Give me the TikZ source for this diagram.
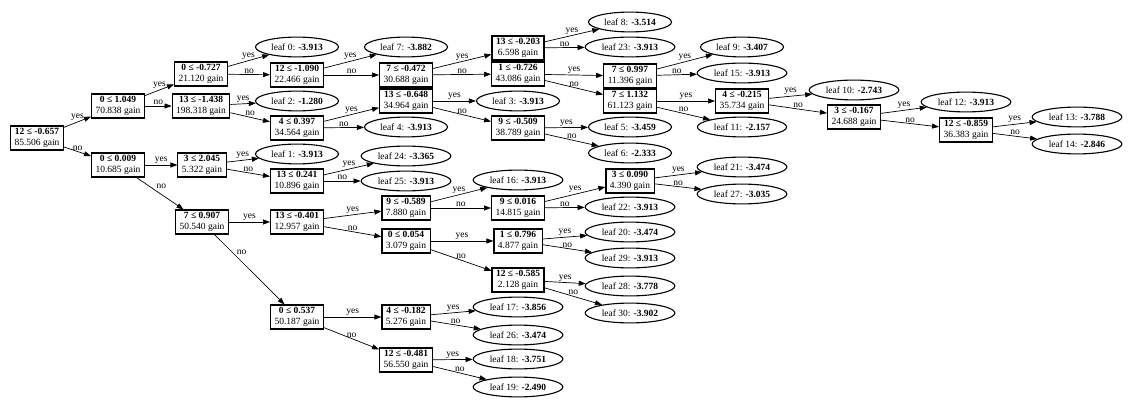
\documentclass[tikz,border=0pt]{standalone}
\usepackage{fontspec}
\setmainfont{Liberation Serif}
\usetikzlibrary{shapes.geometric,arrows.meta}
\newcommand\gvfont{\fontsize{9.5}{11.2}\selectfont}
\tikzset{
  split/.style={draw, rectangle, line width=1.1pt, align=center, inner xsep=4pt, inner ysep=2.2pt, font=\gvfont},
  leafnode/.style={draw, ellipse, line width=1.1pt, inner xsep=3.5pt, inner ysep=3.6pt, font=\gvfont},
  conn/.style={line width=0.7pt, -{Triangle[length=7pt,width=5pt]}},
  lbl/.style={font=\gvfont, inner sep=1pt, above}
}
\newcommand\yn[3]{\draw[conn] (#1) -- node[lbl]{yes} (#2); \draw[conn] (#1) -- node[lbl]{no} (#3);}
\newcommand\spl[4]{\node[split] (#1) at (#2) {\textbf{#3}\\#4 gain};}
\begin{document}
\begin{tikzpicture}[x=1pt,y=-1pt]
\useasboundingbox (0,0) rectangle (1130,409);
% splits
\spl{r}{37,138}{12 ≤ -0.657}{85.506}
\spl{a}{118,106}{0 ≤ 1.049}{70.838}
\spl{b}{118,165}{0 ≤ 0.009}{10.685}
\spl{c}{201,74}{0 ≤ -0.727}{21.120}
\spl{d}{201,106}{13 ≤ -1.438}{198.318}
\spl{e}{202,165}{3 ≤ 2.045}{5.322}
\spl{f}{202,222}{7 ≤ 0.907}{50.540}
\spl{g}{297,75}{12 ≤ -1.090}{22.466}
\spl{h}{297,128}{4 ≤ 0.397}{34.564}
\spl{i}{297,181}{13 ≤ 0.241}{10.896}
\spl{j}{297,222}{13 ≤ -0.401}{12.957}
\spl{k}{297,317}{0 ≤ 0.537}{50.187}
\spl{l}{406,75}{7 ≤ -0.472}{30.688}
\spl{m}{406,101}{13 ≤ -0.648}{34.964}
\spl{n}{406,208}{9 ≤ -0.589}{7.880}
\spl{o}{406,241}{0 ≤ 0.054}{3.079}
\spl{p}{406,317}{4 ≤ -0.182}{5.276}
\spl{q}{406,360}{12 ≤ -0.481}{56.550}
\spl{s}{518,48}{13 ≤ -0.203}{6.598}
\spl{t}{518,74}{1 ≤ -0.726}{43.086}
\spl{u}{518,128}{9 ≤ -0.509}{38.789}
\spl{v}{518,208}{9 ≤ 0.016}{14.815}
\spl{w}{518,241}{1 ≤ 0.796}{4.877}
\spl{x}{518,280}{12 ≤ -0.585}{2.128}
\spl{y}{630,76}{7 ≤ 0.997}{11.396}
\spl{z}{630,101}{7 ≤ 1.132}{61.123}
\spl{aa}{630,181}{3 ≤ 0.090}{4.390}
\spl{bb}{742,101}{4 ≤ -0.215}{35.734}
\spl{cc}{854,117}{3 ≤ -0.167}{24.688}
\spl{dd}{966,130}{12 ≤ -0.859}{36.383}
% leaves
\node[leafnode] (L0) at (297,47) {leaf 0: \textbf{-3.913}};
\node[leafnode] (L2) at (297,101) {leaf 2: \textbf{-1.280}};
\node[leafnode] (L1) at (297,154) {leaf 1: \textbf{-3.913}};
\node[leafnode] (L7) at (406,47) {leaf 7: \textbf{-3.882}};
\node[leafnode] (L4) at (406,127) {leaf 4: \textbf{-3.913}};
\node[leafnode] (L24) at (406,156) {leaf 24: \textbf{-3.365}};
\node[leafnode] (L25) at (406,181) {leaf 25: \textbf{-3.913}};
\node[leafnode] (L3) at (518,101) {leaf 3: \textbf{-3.913}};
\node[leafnode] (L16) at (518,180) {leaf 16: \textbf{-3.913}};
\node[leafnode] (L17) at (518,307) {leaf 17: \textbf{-3.856}};
\node[leafnode] (L26) at (518,335) {leaf 26: \textbf{-3.474}};
\node[leafnode] (L18) at (518,359) {leaf 18: \textbf{-3.751}};
\node[leafnode] (L19) at (518,387) {leaf 19: \textbf{-2.490}};
\node[leafnode] (L8) at (630,22) {leaf 8: \textbf{-3.514}};
\node[leafnode] (L23) at (630,47) {leaf 23: \textbf{-3.913}};
\node[leafnode] (L5) at (630,127) {leaf 5: \textbf{-3.459}};
\node[leafnode] (L6) at (630,153) {leaf 6: \textbf{-2.333}};
\node[leafnode] (L22) at (630,207) {leaf 22: \textbf{-3.913}};
\node[leafnode] (L20) at (630,232) {leaf 20: \textbf{-3.474}};
\node[leafnode] (L29) at (630,258) {leaf 29: \textbf{-3.913}};
\node[leafnode] (L28) at (630,286) {leaf 28: \textbf{-3.778}};
\node[leafnode] (L30) at (630,313) {leaf 30: \textbf{-3.902}};
\node[leafnode] (L9) at (742,47) {leaf 9: \textbf{-3.407}};
\node[leafnode] (L15) at (742,73) {leaf 15: \textbf{-3.913}};
\node[leafnode] (L11) at (742,127) {leaf 11: \textbf{-2.157}};
\node[leafnode] (L21) at (742,167) {leaf 21: \textbf{-3.474}};
\node[leafnode] (L27) at (742,194) {leaf 27: \textbf{-3.035}};
\node[leafnode] (L10) at (854,90) {leaf 10: \textbf{-2.743}};
\node[leafnode] (L12) at (966,102) {leaf 12: \textbf{-3.913}};
\node[leafnode] (L13) at (1077,117) {leaf 13: \textbf{-3.788}};
\node[leafnode] (L14) at (1077,144) {leaf 14: \textbf{-2.846}};
% edges
\yn{r}{a}{b}
\yn{a}{c}{d}
\draw[conn] (b) -- node[lbl]{yes} (e);
\draw[conn] (b) -- node[lbl, pos=0.4, above right]{no} (f);
\yn{c}{L0}{g}
\yn{d}{L2}{h}
\yn{e}{L1}{i}
\draw[conn] (f) -- node[lbl]{yes} (j);
\draw[conn] (f) -- node[lbl, pos=0.3, above right]{no} (k);
\yn{g}{L7}{l}
\yn{h}{m}{L4}
\yn{i}{L24}{L25}
\yn{j}{n}{o}
\yn{k}{p}{q}
\yn{l}{s}{t}
\yn{m}{L3}{u}
\yn{n}{L16}{v}
\yn{o}{w}{x}
\yn{p}{L17}{L26}
\yn{q}{L18}{L19}
\yn{s}{L8}{L23}
\yn{t}{y}{z}
\yn{u}{L5}{L6}
\yn{v}{aa}{L22}
\yn{w}{L20}{L29}
\yn{x}{L28}{L30}
\yn{y}{L9}{L15}
\yn{z}{bb}{L11}
\yn{aa}{L21}{L27}
\yn{bb}{L10}{cc}
\yn{cc}{L12}{dd}
\yn{dd}{L13}{L14}
\end{tikzpicture}
\end{document}
